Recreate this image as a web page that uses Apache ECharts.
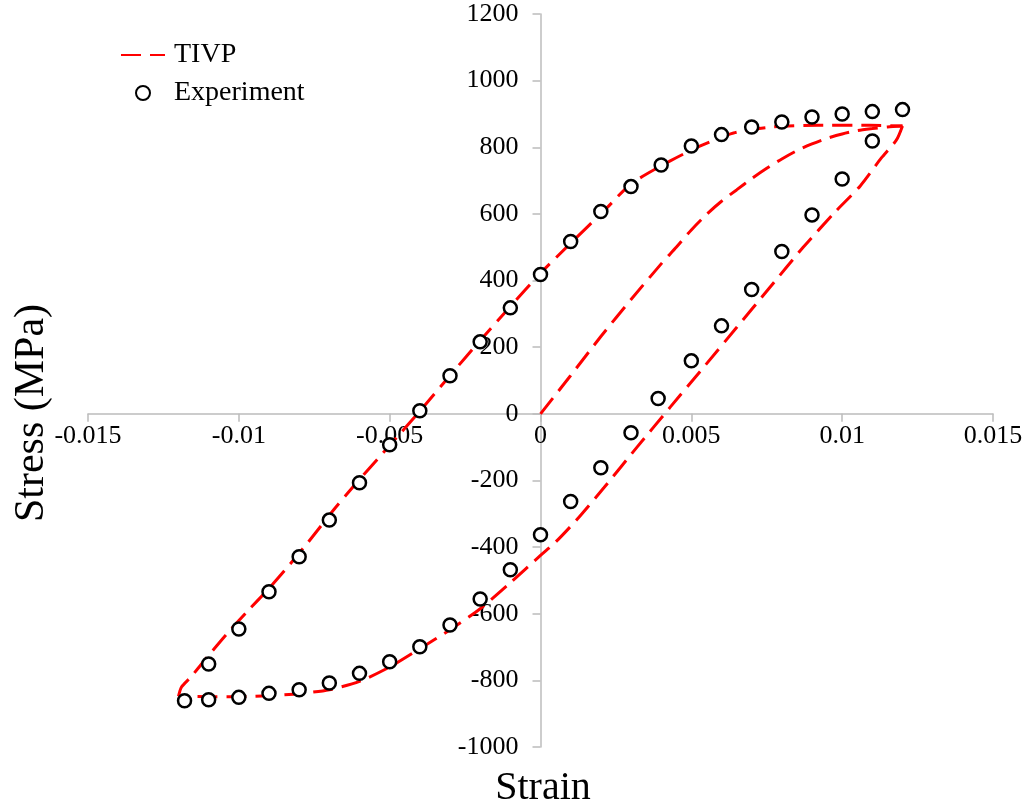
<!DOCTYPE html>
<html>
<head>
<meta charset="utf-8">
<script src="https://cdn.jsdelivr.net/npm/echarts@6/dist/echarts.min.js"></script>
<style>
  html, body { margin: 0; padding: 0; background: #fff; }
  #main { width: 1031px; height: 811px; }
</style>
</head>
<body>
<div id="main"></div>
<script>
// axis ticks
var strainTicks = [-0.015, -0.01, -0.005, 0, 0.005, 0.01, 0.015];
var stressTicks = [-1000, -800, -600, -400, -200, 0, 200, 400, 600, 800, 1000, 1200];

// experiment (circles)
var expStrain = [
  -0.004, -0.003, -0.002, -0.001, 0, 0.001, 0.002, 0.003, 0.004, 0.005, 0.006, 0.007, 0.008, 0.009, 0.010, 0.011, 0.012,
  0.011, 0.010, 0.009, 0.008, 0.007, 0.006, 0.005, 0.0039, 0.003, 0.002, 0.001, 0, -0.001, -0.002, -0.003, -0.004,
  -0.005, -0.006, -0.007, -0.008, -0.009, -0.010, -0.011, -0.0118,
  -0.011, -0.010, -0.009, -0.008, -0.007, -0.006, -0.005
];
var expStress = [
  9, 114, 216, 318, 418, 517, 607, 682, 747, 804, 838, 861, 876, 891, 900, 907, 913,
  819, 705, 597, 487, 373, 264, 159, 46, -57, -162, -263, -363, -468, -556, -634, -699,
  -744, -779, -808, -828, -839, -851, -858, -861,
  -751, -646, -534, -429, -319, -207, -93
];

// TIVP model: first loading
var tivpLoadStrain = [0, 0.001, 0.002, 0.003, 0.004, 0.0045, 0.005, 0.0055, 0.006, 0.0065, 0.007, 0.0075, 0.008, 0.0085, 0.009, 0.0095, 0.010, 0.0105, 0.011, 0.0115, 0.012];
var tivpLoadStress = [0, 115, 232, 343, 450, 500, 552, 598, 638, 672, 706, 737, 765, 790, 810, 827, 840, 850, 856, 861, 864];

// TIVP model: unloading to compression
var tivpUnloadStrain = [0.012, 0.0118, 0.0113, 0.0106, 0.0098, 0.0087, 0.0076, 0.0065, 0.0054, 0.0043, 0.0032, 0.0021, 0.0012, 0.0005, 0, -0.001, -0.002, -0.003, -0.004, -0.005, -0.006, -0.007, -0.008, -0.009, -0.010, -0.011, -0.012];
var tivpUnloadStress = [864, 822, 768, 684, 609, 499, 379, 259, 139, 20, -100, -222, -318, -385, -425, -507, -585, -648, -705, -760, -803, -828, -840, -846, -849, -849, -848];

// TIVP model: reloading
var tivpReloadStrain = [-0.012, -0.0119, -0.0116, -0.0111, -0.0104, -0.0097, -0.009, -0.0083, -0.0077, -0.0068, -0.006, -0.005, -0.004, -0.003, -0.002, -0.001, 0, 0.001, 0.0022, 0.003, 0.0043, 0.0053, 0.0064, 0.0077, 0.0092, 0.0109, 0.012];
var tivpReloadStress = [-848, -820, -791, -736, -661, -591, -524, -451, -385, -282, -197, -95, 8, 115, 220, 322, 422, 512, 618, 690, 759, 804, 843, 861, 866, 866, 864];

function zip(xs, ys) {
  return xs.map(function (x, i) { return [x, ys[i]]; });
}

var font = "'Liberation Serif', 'Times New Roman', serif";
var axisColor = '#bcbcbc';
var dashStyle = { color: '#ff0000', width: 3, type: [20, 9] };

// plot area, axes cross at the origin
var W = 1031, H = 811;
var gridL = 88, gridR = 38, gridT = 14, gridB = 64;
var xMin = strainTicks[0], xMax = strainTicks[strainTicks.length - 1];
var yMin = stressTicks[0], yMax = stressTicks[stressTicks.length - 1];
var gridW = W - gridL - gridR, gridH = H - gridT - gridB;
var xAxisOffset = -gridH * (0 - yMin) / (yMax - yMin);
var yAxisOffset = -gridW * (0 - xMin) / (xMax - xMin);

var myChart = echarts.init(document.getElementById('main'), null, { renderer: 'canvas' });

function tivpSeries(xs, ys) {
  return {
    name: 'TIVP',
    type: 'line',
    data: zip(xs, ys),
    showSymbol: false,
    symbol: 'none',
    smooth: 0.25,
    lineStyle: dashStyle,
    itemStyle: { color: '#ff0000' },
    z: 2
  };
}

var option = {
  animation: false,
  backgroundColor: '#fff',
  grid: { left: gridL, right: gridR, top: gridT, bottom: gridB },
  legend: {
    data: [
      { name: 'TIVP', itemStyle: { opacity: 0 } },
      { name: 'Experiment' }
    ],
    orient: 'vertical',
    left: 115,
    top: 36,
    itemWidth: 44,
    itemHeight: 14,
    itemGap: 10,
    textStyle: { fontFamily: font, fontSize: 28, color: '#000', padding: [0, 0, 0, 4] }
  },
  xAxis: {
    type: 'value',
    min: xMin,
    max: xMax,
    interval: 0.005,
    offset: xAxisOffset,
    axisLine: { onZero: false, lineStyle: { color: axisColor, width: 1.5 } },
    axisTick: { show: true, length: 8, lineStyle: { color: axisColor, width: 1.5 } },
    splitLine: { show: false },
    axisLabel: {
      fontFamily: font, fontSize: 26, color: '#000', margin: 9,
      showMinLabel: true, showMaxLabel: true,
      formatter: function (v) { return String(+v.toFixed(3)); }
    }
  },
  yAxis: {
    type: 'value',
    min: yMin,
    max: yMax,
    interval: 200,
    offset: yAxisOffset,
    axisLine: { onZero: false, lineStyle: { color: axisColor, width: 1.5 } },
    axisTick: { show: true, length: 8, lineStyle: { color: axisColor, width: 1.5 } },
    splitLine: { show: false },
    axisLabel: {
      fontFamily: font, fontSize: 26, color: '#000', margin: 22,
      showMinLabel: true, showMaxLabel: true,
      formatter: function (v) { return String(v); }
    }
  },
  graphic: [
    {
      type: 'text',
      x: 32, y: 413,
      rotation: Math.PI / 2,
      style: { text: 'Stress (MPa)', font: '42px ' + font, fill: '#000', align: 'center', verticalAlign: 'middle' }
    },
    {
      type: 'text',
      x: 543, y: 788,
      style: { text: 'Strain', font: '40px ' + font, fill: '#000', align: 'center', verticalAlign: 'middle' }
    }
  ],
  series: [
    tivpSeries(tivpLoadStrain, tivpLoadStress),
    tivpSeries(tivpUnloadStrain, tivpUnloadStress),
    tivpSeries(tivpReloadStrain, tivpReloadStress),
    {
      name: 'Experiment',
      type: 'scatter',
      data: zip(expStrain, expStress),
      symbol: 'circle',
      symbolSize: 13,
      itemStyle: { color: '#fff', borderColor: '#000', borderWidth: 2.5, opacity: 1 },
      z: 3
    }
  ]
};

myChart.setOption(option);
</script>
</body>
</html>
